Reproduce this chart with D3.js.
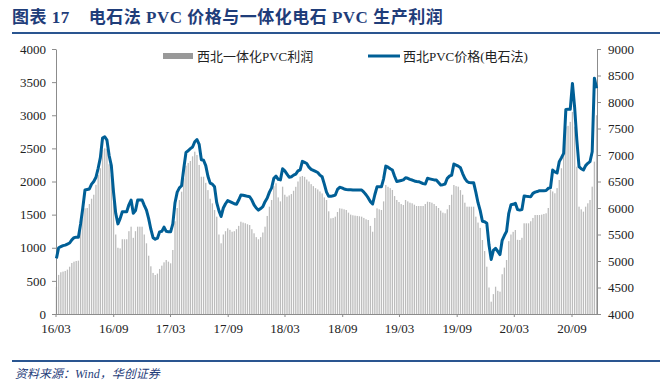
<!DOCTYPE html>
<html>
<head>
<meta charset="utf-8">
<script src="https://cdn.jsdelivr.net/npm/d3@7/dist/d3.min.js"></script>
<style>
  body { margin: 0; background: #fff; }
  svg { display: block; }
</style>
</head>
<body>
<div class="chart"></div>
<script>
// weekly data, first week 2016-03-04
var firstWeek = "2016-03-04";

var tickLabels = ["16/03", "16/09", "17/03", "17/09", "18/03", "18/09", "19/03", "19/09", "20/03", "20/09"];
var leftTicks = [0, 500, 1000, 1500, 2000, 2500, 3000, 3500, 4000];
var rightTicks = [4000, 4500, 5000, 5500, 6000, 6500, 7000, 7500, 8000, 8500, 9000];

var seriesNames = ["西北一体化PVC利润", "西北PVC价格(电石法)"];

// 西北一体化PVC利润 (left axis)
var profit = [
  410, 590, 630, 640, 650, 670, 714, 770, 790, 800,
  805, 1400, 1595, 1595, 1600, 1660, 1740, 1800, 1950, 2100,
  2200, 2480, 2501, 2490, 2260, 2100, 1900, 1200, 1000, 990,
  1128, 1128, 1128, 1250, 1318, 1150, 1250, 1318, 1318, 1318,
  1200, 1067, 880, 720, 620, 589, 610, 680, 730, 780,
  815, 790, 765, 966, 1400, 1600, 1720, 1846, 2050, 2240,
  2280, 2310, 2380, 2450, 2400, 2250, 2072, 2072, 1980, 1870,
  1740, 1670, 1570, 1469, 1200, 1067, 1200, 1250, 1293, 1270,
  1242, 1250, 1280, 1330, 1393, 1380, 1370, 1355, 1343, 1280,
  1218, 1160, 1128, 1160, 1230, 1318, 1480, 1620, 1721, 1930,
  1973, 1760, 1700, 1922, 1800, 1771, 1790, 1810, 1860, 1920,
  2000, 2072, 2083, 2070, 2030, 2000, 1960, 1930, 1900, 1880,
  1850, 1820, 1760, 1721, 1550, 1444, 1450, 1469, 1540, 1595,
  1590, 1580, 1570, 1530, 1500, 1490, 1485, 1480, 1475, 1469,
  1450, 1430, 1419, 1330, 1242, 1450, 1595, 1580, 1570, 1700,
  1947, 1920, 1900, 1872, 1780, 1721, 1690, 1660, 1645, 1721,
  1700, 1680, 1671, 1650, 1630, 1630, 1630, 1630, 1660, 1695,
  1690, 1680, 1660, 1630, 1600, 1560, 1530, 1520, 1580, 1645,
  1800, 1947, 1930, 1922, 1870, 1800, 1680, 1620, 1620, 1620,
  1620, 1469, 1380, 1300, 1117, 950, 714, 400, 186, 300,
  412, 350, 337, 600, 700, 815, 1100, 1200, 1240, 1268,
  1120, 1117, 1150, 1369, 1369, 1369, 1400, 1450, 1494, 1494,
  1494, 1500, 1510, 1520, 1600, 1872, 1850, 1822, 1900, 2023,
  2200, 2450, 2828, 2840, 2900, 3050, 2828, 2223, 1620, 1580,
  1545, 1620, 1671, 1721, 1922, 2300, 3000
];

// 西北PVC价格(电石法) (right axis)
var price = [
  5050, 5250, 5270, 5290, 5300, 5320, 5340, 5400, 5440, 5450,
  5450, 5700, 6000, 6340, 6350, 6360, 6450, 6500, 6580, 6750,
  6950, 7320, 7345, 7280, 6990, 6800, 6300, 5900, 5700, 5800,
  5930, 5930, 5930, 6060, 6150, 5900, 5950, 6150, 6150, 6150,
  6050, 5960, 5800, 5600, 5440, 5410, 5430, 5550, 5560, 5640,
  5560, 5550, 5550, 5700, 6100, 6300, 6380, 6420, 6750, 7050,
  7080, 7120, 7150, 7250, 7290, 7200, 6910, 6900, 6800, 6600,
  6470, 6450, 6400, 6100, 5950, 5840, 6000, 6080, 6140, 6120,
  6100, 6080, 6070, 6150, 6245, 6240, 6230, 6220, 6213, 6150,
  6060, 6000, 5960, 5990, 6025, 6120, 6190, 6300, 6380, 6560,
  6600, 6540, 6530, 6740, 6700, 6640, 6580, 6590, 6620, 6640,
  6700, 6720, 6880, 6860, 6840, 6770, 6730, 6710, 6690, 6670,
  6620, 6590, 6450, 6300, 6220, 6220, 6230, 6245, 6350, 6390,
  6380, 6360, 6350, 6345, 6345, 6340, 6340, 6340, 6340, 6340,
  6300, 6250, 6190, 6120, 6075, 6250, 6400, 6400, 6400, 6550,
  6790, 6770, 6740, 6717, 6600, 6500, 6510, 6520, 6530, 6570,
  6560, 6540, 6528, 6510, 6500, 6496, 6480, 6460, 6453, 6560,
  6550, 6540, 6530, 6528, 6480, 6434, 6440, 6453, 6560, 6600,
  6620, 6830, 6810, 6790, 6760, 6650, 6560, 6500, 6480, 6478,
  6478, 6300, 6100, 5950, 5750, 5740, 5711, 5300, 5030, 5200,
  5240, 5180, 5120, 5390, 5480, 5560, 5900, 6060, 6070, 6090,
  5970, 5960, 5970, 6226, 6220, 6215, 6213, 6277, 6300, 6310,
  6327, 6327, 6327, 6330, 6371, 6380, 6717, 6680, 6660, 6875,
  6950, 7030, 7860, 7862, 7862, 8350, 7900, 7283, 6780, 6740,
  6717, 6800, 6843, 6875, 7062, 8450, 8260
];

var W = 671, H = 382;
var navy = "#1f3d7a";
var blue = "#005f96";
var barColor = "#bcbcbc";
var axisColor = "#8c8c8c";
var serif = "'Liberation Serif', 'Noto Sans CJK SC', serif";

var plotL = 56, plotR = 597, plotT = 49, plotB = 314;

var parseDay = d3.timeParse("%Y-%m-%d");
var parseTick = d3.timeParse("%y/%m");
var start = parseDay(firstWeek);
var dates = profit.map(function (d, i) { return d3.timeDay.offset(start, i * 7); });

var svg = d3.select(".chart").append("svg")
    .attr("width", W)
    .attr("height", H);

// title + rules
svg.append("text")
    .attr("x", 12)
    .attr("y", 23)
    .attr("fill", navy)
    .style("font-family", serif)
    .style("font-size", "17px")
    .style("font-weight", "bold")
    .style("letter-spacing", "0.5px")
    .style("white-space", "pre")
    .text("图表 17    电石法 PVC 价格与一体化电石 PVC 生产利润");

svg.append("line")
    .attr("x1", 12).attr("x2", 660)
    .attr("y1", 33).attr("y2", 33)
    .attr("stroke", "#2a5590").attr("stroke-width", 2);

svg.append("line")
    .attr("x1", 12).attr("x2", 660)
    .attr("y1", 361).attr("y2", 361)
    .attr("stroke", "#2a5590").attr("stroke-width", 2);

svg.append("text")
    .attr("x", 15)
    .attr("y", 378)
    .attr("fill", navy)
    .style("font-family", serif)
    .style("font-size", "12px")
    .style("font-style", "italic")
    .text("资料来源：Wind，华创证券");

// scales
var x = d3.scaleTime()
    .domain([parseTick("16/03"), parseTick("20/09")])
    .range([55.5, 571.5]);

var yL = d3.scaleLinear().domain([0, 4000]).range([plotB, plotT]);
var yR = d3.scaleLinear().domain([4000, 9000]).range([plotB, plotT]);

// bars
var bw = 1.3;
svg.append("g")
    .selectAll("rect")
    .data(profit)
    .enter()
    .append("rect")
    .attr("x", function (d, i) { return x(dates[i]) - bw / 2; })
    .attr("y", function (d) { return yL(d); })
    .attr("width", bw)
    .attr("height", function (d) { return plotB - yL(d); })
    .attr("fill", barColor);

// axes
var gL = svg.append("g")
    .attr("transform", "translate(" + plotL + ",0)")
    .call(d3.axisLeft(yL).tickValues(leftTicks).tickFormat(d3.format("d"))
        .tickSize(4).tickPadding(6).tickSizeOuter(0));

var gR = svg.append("g")
    .attr("transform", "translate(" + plotR + ",0)")
    .call(d3.axisRight(yR).tickValues(rightTicks).tickFormat(d3.format("d"))
        .tickSize(4).tickPadding(7).tickSizeOuter(0));

var gX = svg.append("g")
    .attr("transform", "translate(0," + plotB + ")")
    .call(d3.axisBottom(x)
        .tickValues(tickLabels.map(function (t) { return parseTick(t); }))
        .tickFormat(d3.timeFormat("%y/%m"))
        .tickSize(3)
        .tickPadding(7)
        .tickSizeOuter(0));

gX.select(".domain").attr("d", "M" + plotL + ",0.5H" + plotR);

[gL, gR, gX].forEach(function (g) {
    g.attr("font-family", null).attr("font-size", null);
    g.selectAll(".domain").attr("stroke", axisColor);
    g.selectAll(".tick line").attr("stroke", axisColor);
    g.selectAll(".tick text")
        .style("font-family", serif)
        .style("font-size", "13px")
        .attr("fill", "#222");
});

// price line
var line = d3.line()
    .x(function (d, i) { return x(dates[i]); })
    .y(function (d) { return yR(d); });

svg.append("path")
    .datum(price)
    .attr("d", line)
    .attr("fill", "none")
    .attr("stroke", blue)
    .attr("stroke-width", 3)
    .attr("stroke-linejoin", "round");

// legend
var lg = svg.append("g").attr("class", "legend");
lg.append("rect")
    .attr("x", 163).attr("y", 53)
    .attr("width", 30).attr("height", 6)
    .attr("fill", "#999999");
lg.append("text")
    .attr("x", 197).attr("y", 61)
    .style("font-family", serif)
    .style("font-size", "13px")
    .attr("fill", "#222")
    .text(seriesNames[0]);
lg.append("line")
    .attr("x1", 368).attr("x2", 400)
    .attr("y1", 56).attr("y2", 56)
    .attr("stroke", blue).attr("stroke-width", 3);
lg.append("text")
    .attr("x", 403).attr("y", 61)
    .style("font-family", serif)
    .style("font-size", "13px")
    .attr("fill", "#222")
    .text(seriesNames[1]);
</script>
</body>
</html>
